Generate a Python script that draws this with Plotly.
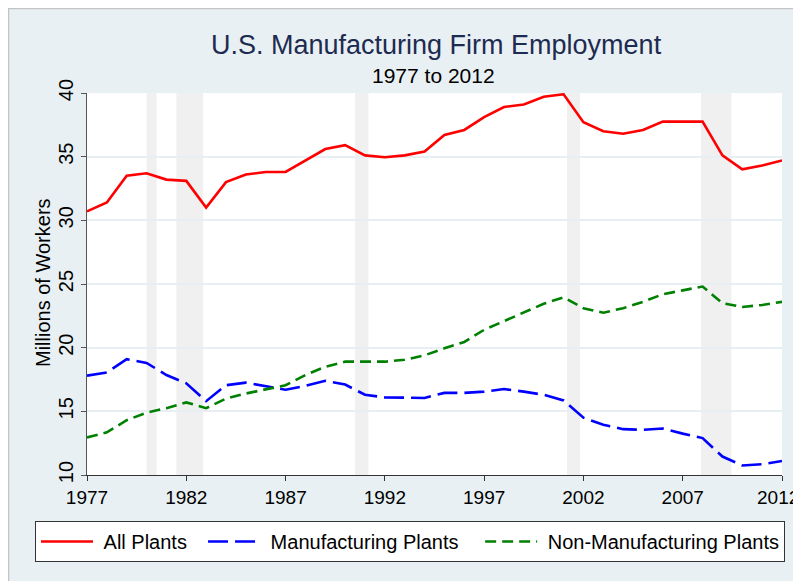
import plotly.graph_objects as go

years = list(range(1977, 2013))
all_plants = [30.7, 31.4, 33.5, 33.7, 33.2, 33.1, 31.0, 33.0, 33.6, 33.8,
              33.8, 34.7, 35.6, 35.9, 35.1, 34.95, 35.1, 35.4, 36.7, 37.1,
              38.1, 38.9, 39.1, 39.7, 39.9, 37.7, 37.0, 36.8, 37.1, 37.75,
              37.75, 37.75, 35.1, 34.0, 34.3, 34.7]
manufacturing = [17.8, 18.05, 19.1, 18.8, 17.85, 17.2, 15.8, 17.05, 17.25, 17.0,
                 16.7, 17.0, 17.4, 17.1, 16.3, 16.1, 16.05, 16.05, 16.45, 16.45,
                 16.55, 16.75, 16.55, 16.3, 15.85, 14.5, 13.95, 13.6, 13.55, 13.65,
                 13.25, 12.9, 11.45, 10.75, 10.85, 11.1]
non_manufacturing = [12.95, 13.35, 14.3, 14.9, 15.25, 15.7, 15.25, 16.0, 16.4, 16.75,
                     17.05, 17.85, 18.5, 18.9, 18.9, 18.9, 19.05, 19.4, 19.95, 20.45,
                     21.4, 22.1, 22.8, 23.45, 23.95, 23.1, 22.75, 23.1, 23.6, 24.2,
                     24.5, 24.8, 23.5, 23.2, 23.35, 23.6]
series_names = ["All Plants", "Manufacturing Plants", "Non-Manufacturing Plants"]
recessions = [(1980.0, 1980.5), (1981.5, 1982.85), (1990.5, 1991.17),
              (2001.17, 2001.83), (2007.92, 2009.45)]
x_ticks = list(range(1977, 2013, 5))
x_tick_labels = [str(t) for t in x_ticks]
y_ticks = list(range(10, 41, 5))

FONT = "Liberation Sans, Arial, sans-serif"
BG = "#e8f0f3"
NB = "\u00a0"

# The page body adds an 8px offset; work in screen coords and convert.
OFF = 8
W, H = 801 - OFF, 581 - OFF
L, T = 87 - OFF, 93 - OFF
R = W - (782 - OFF)
B = H - (475 - OFF)
pw, ph = W - L - R, H - T - B
def px(x): return (x - OFF - L) / pw
def py(y): return (H - B - (y - OFF)) / ph

fig = go.Figure()
fig.add_trace(go.Scatter(x=years, y=all_plants, mode="lines",
                         name=NB + series_names[0] + NB * 2,
                         line=dict(color="#ff0000", width=2.6)))
fig.add_trace(go.Scatter(x=years, y=manufacturing, mode="lines",
                         name=NB + series_names[1] + NB * 3,
                         line=dict(color="#0000ff", width=2.6, dash="20px,7px")))
fig.add_trace(go.Scatter(x=years, y=non_manufacturing, mode="lines",
                         name=NB + series_names[2],
                         line=dict(color="#008000", width=2.6, dash="11px,6px")))

shapes = []
for a, b in recessions:
    shapes.append(dict(type="rect", xref="x", yref="paper", x0=a, x1=b, y0=0, y1=1,
                       fillcolor="#f0f0f0", line=dict(width=0), layer="between"))

# grey frame edge at top/left of the figure
shapes.append(dict(type="path", xref="paper", yref="paper",
                   path=f"M {px(8.5)} {py(600)} L {px(8.5)} {py(8.5)} L {px(820)} {py(8.5)}",
                   line=dict(color="#c4c4c4", width=1.5), layer="below"))
# legend drop shadow
shapes.append(dict(type="rect", xref="paper", yref="paper", x0=px(38), x1=px(784),
                   y0=py(561), y1=py(525), fillcolor="#7a7a7a", line=dict(width=0), layer="above"))

fig.update_layout(
    width=W, height=H,
    margin=dict(l=L, r=R, t=T, b=B, autoexpand=False),
    paper_bgcolor=BG, plot_bgcolor="white",
    font=dict(family=FONT, color="#000000", size=19),
    showlegend=True,
    legend=dict(orientation="h", x=px(35), y=py(521), xanchor="left", yanchor="top",
                bgcolor="white", bordercolor="#333333", borderwidth=1,
                font=dict(size=20, family=FONT), itemwidth=52),
    shapes=shapes,
    annotations=[
        dict(text="U.S. Manufacturing Firm Employment", xref="paper", yref="paper",
             x=px(436), y=py(45), showarrow=False, xanchor="center", yanchor="middle",
             font=dict(size=27, color="#1e2b50", family=FONT)),
        dict(text="1977 to 2012", xref="paper", yref="paper",
             x=px(433), y=py(75), showarrow=False, xanchor="center", yanchor="middle",
             font=dict(size=21, color="#000000", family=FONT)),
        dict(text="Millions of Workers", xref="paper", yref="paper",
             x=px(43), y=py(283), showarrow=False, xanchor="center", yanchor="middle",
             textangle=-90, font=dict(size=20, color="#000000", family=FONT)),
        # last x tick label, kept fully inside the page edge
        dict(text=x_tick_labels[-1], xref="x", yref="paper", x=x_ticks[-1], y=0,
             xanchor="right", yanchor="middle", xshift=18, yshift=-22, showarrow=False,
             borderpad=0, font=dict(size=19, color="#000000", family=FONT)),
    ],
    xaxis=dict(range=[1977, 2012], tickvals=x_ticks, ticktext=x_tick_labels[:-1] + [""],
               showgrid=False, zeroline=False, showline=True, linecolor="#333333", linewidth=1,
               ticks="outside", ticklen=5, tickcolor="#333333",
               automargin=False, tickfont=dict(size=19, family=FONT)),
    yaxis=dict(range=[10, 40], tickvals=y_ticks, showgrid=True, gridcolor="#e8eff3", gridwidth=2,
               zeroline=False, showline=True, linecolor="#555555", linewidth=1,
               ticks="outside", ticklen=5, tickcolor="#555555", tickangle=-90,
               automargin=False, ticklabeloverflow="allow", tickfont=dict(size=20, family=FONT)),
)

fig.write_html("out.html")
